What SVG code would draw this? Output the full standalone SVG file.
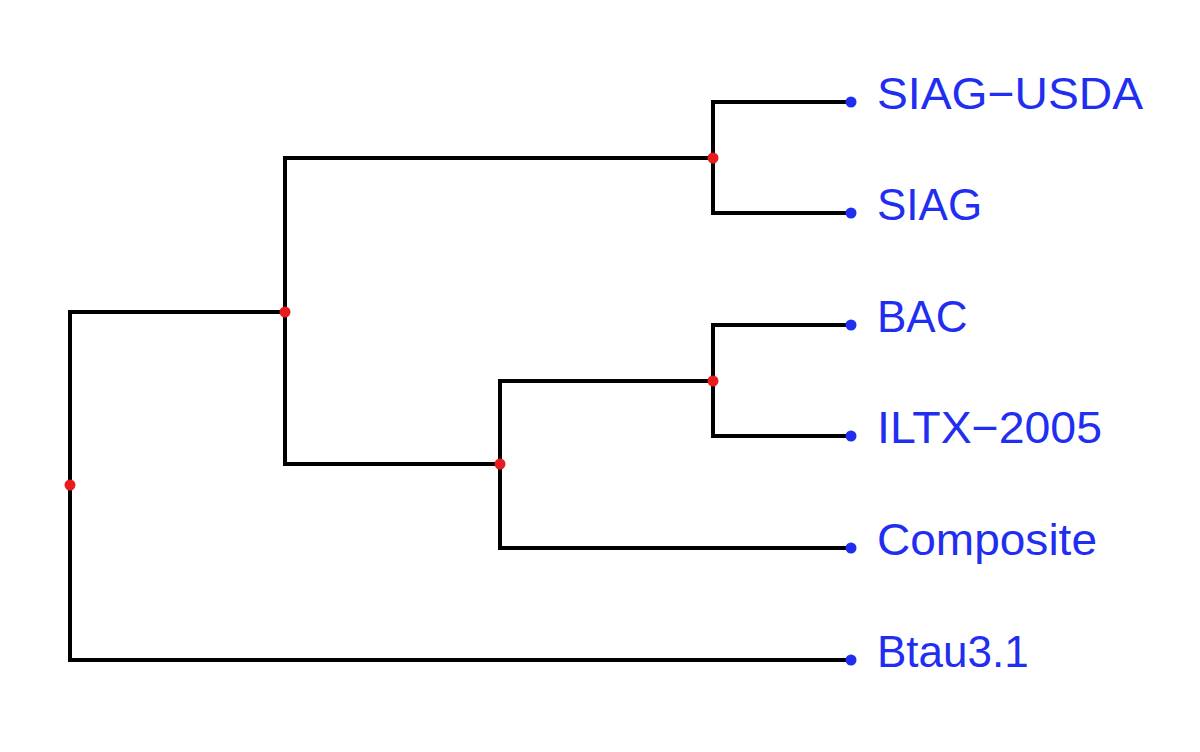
<svg xmlns="http://www.w3.org/2000/svg" width="1200" height="752" viewBox="0 0 1200 752">
<style>
.e{fill:none;stroke:#000;stroke-width:4;stroke-linecap:butt;stroke-linejoin:miter}
.n{fill:#e81c1c}
.t{fill:#1f2ef0}
.l{font-family:"Liberation Sans",Arial,sans-serif;font-size:44px;fill:#1f2ef0}
</style>
<rect width="1200" height="752" fill="#fff"/>
<g id="connectors">
<path class="e" d="M851,102 H713 V213 H851"/>
<path class="e" d="M851,325 H713 V436 H851"/>
<path class="e" d="M713,381 H500 V548 H851"/>
<path class="e" d="M713,158 H285 V464 H500"/>
<path class="e" d="M285,312 H70 V660 H851"/>
</g>
<g id="internal-nodes">
<circle class="n" cx="713" cy="158" r="5.5"/>
<circle class="n" cx="713" cy="381" r="5.5"/>
<circle class="n" cx="500" cy="464" r="5.5"/>
<circle class="n" cx="285" cy="312" r="5.5"/>
<circle class="n" cx="70" cy="485" r="5.5"/>
</g>
<g id="leaf-SIAG-USDA"><circle class="t" cx="851" cy="102" r="5.5"/><text class="l" x="877" y="108.5" textLength="266" lengthAdjust="spacingAndGlyphs">SIAG−USDA</text></g>
<g id="leaf-SIAG"><circle class="t" cx="851" cy="213" r="5.5"/><text class="l" x="877" y="219.5">SIAG</text></g>
<g id="leaf-BAC"><circle class="t" cx="851" cy="325" r="5.5"/><text class="l" x="877" y="331.5">BAC</text></g>
<g id="leaf-ILTX-2005"><circle class="t" cx="851" cy="436" r="5.5"/><text class="l" x="877" y="442.5" textLength="225" lengthAdjust="spacingAndGlyphs">ILTX−2005</text></g>
<g id="leaf-Composite"><circle class="t" cx="851" cy="548" r="5.5"/><text class="l" x="877" y="554.5" textLength="220" lengthAdjust="spacingAndGlyphs">Composite</text></g>
<g id="leaf-Btau3.1"><circle class="t" cx="851" cy="660" r="5.5"/><text class="l" x="877" y="666.5">Btau3.1</text></g>
</svg>
